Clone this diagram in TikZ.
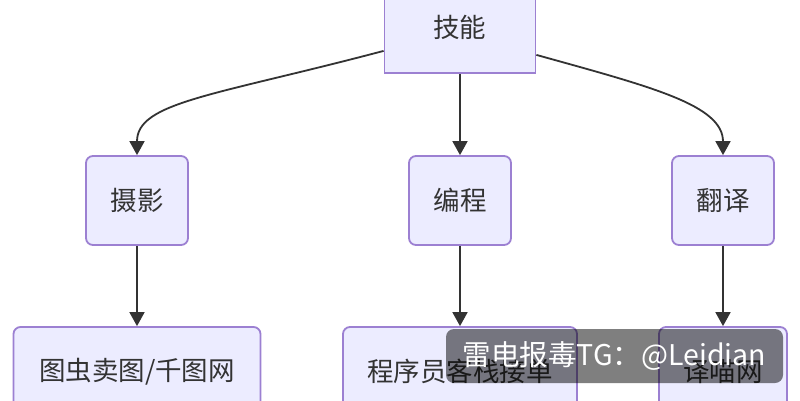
\documentclass[tikz,border=0pt]{standalone}
\usepackage{fontspec}
\setmainfont{Noto Sans CJK SC}
\usetikzlibrary{arrows.meta}
\definecolor{nodefill}{HTML}{ECECFF}
\definecolor{nodeline}{HTML}{9C80D2}
\definecolor{inktext}{HTML}{333333}
\tikzset{
  labelfont/.style={font=\fontsize{26.5}{31}\selectfont},
  box/.style={draw=nodeline,fill=nodefill,line width=1.8pt,text=inktext,labelfont,inner sep=0pt,anchor=center},
  roundbox/.style={box,rounded corners=7pt},
  link/.style={draw=inktext,line width=1.8pt,-{Triangle[length=14pt,width=15pt]}},
  stamp/.style={fill=black,fill opacity=0.5,rounded corners=8pt,inner sep=0pt,text opacity=1,text=white,font=\fontsize{28.5}{32}\selectfont}
}
\begin{document}
\begin{tikzpicture}[x=1pt,y=-1pt]
\useasboundingbox (0,0) rectangle (800,400);
\clip (0,0) rectangle (800,400);
\fill[white] (0,0) rectangle (800,400);
\node[box,minimum width=151pt,minimum height=148pt] (skill) at (460,-1) {};
\node[text=inktext,labelfont] (skilltext) at (459.5,27) {技能};
\node[roundbox,minimum width=102pt,minimum height=89pt] (photo) at (137,200.5) {\raisebox{1pt}{摄影}};
\node[roundbox,minimum width=102pt,minimum height=89pt] (code) at (460,200.5) {\raisebox{1pt}{编程}};
\node[roundbox,minimum width=102pt,minimum height=89pt] (trans) at (723,200.5) {\raisebox{1pt}{翻译}};
\node[roundbox,minimum width=247pt,minimum height=89pt] (tuchong) at (137,371.5) {图虫卖图/千图网};
\node[roundbox,minimum width=234pt,minimum height=89pt] (kezhan) at (460,371.5) {程序员客栈接单};
\node[roundbox,minimum width=128pt,minimum height=89pt] (yimiao) at (723,371.5) {译喵网};
\draw[link] ([yshift=23pt]skill.south west) .. controls +(-170,45) and (137,102) .. (photo.north);
\draw[link] (skill.south) -- (code.north);
\draw[link] ([yshift=19pt]skill.south east) .. controls +(115,32) and (723,105) .. (trans.north);
\draw[link] (photo.south) -- (tuchong.north);
\draw[link] (code.south) -- (kezhan.north);
\draw[link] (trans.south) -- (yimiao.north);
\node[stamp,minimum width=337pt,minimum height=54pt] (mark) at (614.5,356) {雷电报毒TG：@Leidian};
\end{tikzpicture}
\end{document}
